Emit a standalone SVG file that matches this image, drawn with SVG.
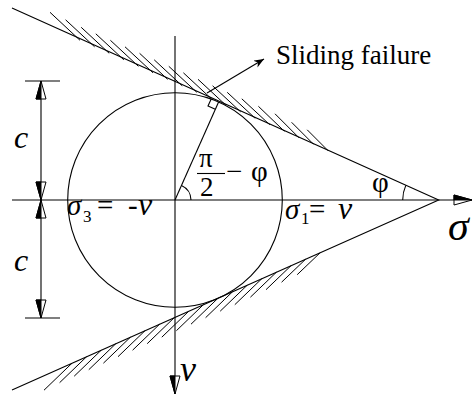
<svg xmlns="http://www.w3.org/2000/svg" width="472" height="396" viewBox="0 0 472 396">
<style>
.ln{fill:none;stroke:#000;stroke-width:1.1}
.h{fill:none;stroke:#000;stroke-width:1}
text{font-family:'Liberation Serif',serif;fill:#000}
.i{font-style:italic}
</style>
<defs>
<g id="ah">
<path d="M0 0 L-5 -18 L5 -18 Z" fill="#fff" stroke="#000" stroke-width="1"/>
<path d="M0 0 L-5 -18 L0 -18 Z" fill="#000" stroke="#000" stroke-width="1"/>
</g>
<marker id="fa" viewBox="0 0 10 8" refX="10" refY="4" markerWidth="10" markerHeight="8" markerUnits="userSpaceOnUse" orient="auto">
<path d="M0 0 L10 4 L0 8 L3 4 Z" fill="#000"/>
</marker>
</defs>
<g id="connectors">
<path class="ln" d="M12 200 H462"/>
<path class="ln" d="M175 36 V378"/>
<path class="ln" d="M12 8 L438.7 200 L12 390"/>
<path class="ln" d="M175 200 L218.6 102"/>
<path class="ln" d="M215.3 109.3 L208 106 L211.3 98.7"/>
<path class="ln" d="M191 200 A16 16 0 0 0 181.5 185.4"/>
<path class="ln" d="M402.7 200 A36 36 0 0 1 405.8 185.4"/>
<path class="ln" d="M207 93 L264 59" marker-end="url(#fa)"/>
<use href="#ah" transform="translate(472 200) rotate(-90) scale(-1 1)"/>
<use href="#ah" transform="translate(175 394)"/>
</g>
<g id="hatch-upper">
<path class="h" d="M80 40.3 l-30 -28 M94.6 46.8 l-29 -27 M109.2 53.3 l-28 -26 M123.8 59.8 l-28 -26 M138.4 66.3 l-28 -26 M153 72.8 l-28 -26 M167.6 79.3 l-28 -26 M182.2 85.8 l-28 -26 M196.8 92.3 l-28 -26 M211.4 98.8 l-28 -26 M226 105.3 l-28 -26 M240.6 111.8 l-28 -26 M255.2 118.3 l-28 -26 M269.8 124.8 l-28 -26 M284.4 131.3 l-26 -25 M299 137.8 l-24 -24 M313.6 144.3 l-22 -22 M328.2 150.8 l-21 -21"/>
</g>
<g id="hatch-lower">
<path class="h" d="M72 363.2 l-28 27 M86.6 356.7 l-27 26 M101.2 350.2 l-27 26 M115.8 343.7 l-27 26 M130.4 337.2 l-27 26 M145 330.7 l-27 26 M159.6 324.2 l-27 26 M174.2 317.7 l-27 26 M188.8 311.2 l-27 26 M203.4 304.7 l-27 26 M218 298.2 l-27 26 M232.6 291.7 l-27 26 M247.2 285.2 l-27 26 M261.8 278.7 l-27 26 M276.4 272.2 l-26 25 M291 265.7 l-25 24 M305.6 259.2 l-24 23 M320.2 252.7 l-23 22"/>
</g>
<g id="circle">
<circle class="ln" cx="175" cy="200" r="107.3"/>
</g>
<g id="dimension">
<path class="ln" d="M25 81 H60 M25 318 H60 M41 81 V318"/>
<use href="#ah" transform="translate(41 81) scale(1 -1)"/>
<use href="#ah" transform="translate(41 200)"/>
<use href="#ah" transform="translate(41 200) scale(1 -1)"/>
<use href="#ah" transform="translate(41 318)"/>
<text class="i" x="14" y="148" font-size="32">c</text>
<text class="i" x="14" y="271" font-size="32">c</text>
</g>
<g id="label-sliding">
<text x="276" y="64" font-size="27">Sliding failure</text>
</g>
<g id="label-s3">
<text class="i" x="67" y="215" font-size="29">σ</text>
<text x="83" y="222" font-size="17">3</text>
<text x="97" y="215" font-size="29">=</text>
<text x="128" y="215" font-size="29">-</text>
<text class="i" x="138" y="215" font-size="32">v</text>
</g>
<g id="label-s1">
<text class="i" x="285" y="219" font-size="29">σ</text>
<text x="301" y="224" font-size="17">1</text>
<text x="309" y="219" font-size="29">=</text>
<text class="i" x="338" y="219" font-size="32">v</text>
</g>
<g id="label-angle">
<text x="199" y="167" font-size="27">π</text>
<path class="ln" d="M197 173.5 H225"/>
<text x="200" y="196" font-size="27">2</text>
<text x="226" y="181" font-size="29">−</text>
<text x="251" y="181" font-size="29">φ</text>
</g>
<g id="label-phi">
<text x="372" y="192" font-size="29">φ</text>
</g>
<g id="label-sigma">
<text class="i" x="448" y="240" font-size="42">σ</text>
</g>
<g id="label-v">
<text class="i" x="180" y="381" font-size="36">v</text>
</g>
</svg>
